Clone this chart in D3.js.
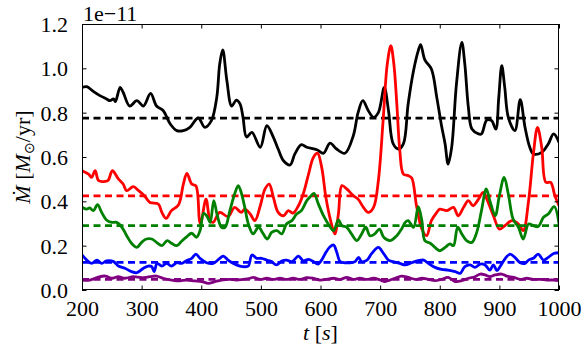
<!DOCTYPE html>
<html><head><meta charset="utf-8">
<script src="https://cdn.jsdelivr.net/npm/d3@7"></script>
<style>body{margin:0;background:#fff}svg{display:block}</style>
</head><body><svg id="c" width="584" height="352"></svg>
<script>
const xTicks = [200,300,400,500,600,700,800,900,1000];
const yTicks = [0,0.2,0.4,0.6,0.8,1.0,1.2];
const xLabels = ["200","300","400","500","600","700","800","900","1000"];
const yLabels = ["0.0","0.2","0.4","0.6","0.8","1.0","1.2"];
const seriesNames = ["black","red","green","blue","purple"];
const seriesColors = ["#000000","#ff0000","#008000","#0000ff","#800080"];
const seriesMeans = [0.775,0.425,0.29,0.125,0.048];

const tBlack = [200,208,219,230,241,247,253,256,264,269,280,292,303,315,325,336,348,359,370,381,395,406,417,426,431,436,443,451,459,465,470,476,485,499,510,521,529,538,549,557,568,577,594,605,616,627,641,655,663,671,680,689,697,707,714,722,731,739,747,756,764,768,775,786,795,803,809,814,820,828,837,842,848,854,865,870,879,887,894,899,904,909,915,926,935,943,951,957,971,982,991,1000];
const vBlack = [.914,.917,.896,.877,.862,.854,.862,.85,.914,.892,.83,.854,.83,.887,.83,.81,.749,.719,.719,.734,.776,.734,.764,.869,1.02,1.083,.944,.83,.857,.84,.78,.69,.711,.644,.741,.689,.636,.583,.564,.614,.656,.644,.633,.617,.663,.636,.617,.696,.80,.854,.81,.779,.80,.914,.81,.659,.636,.659,.839,.989,1.08,1.107,1.038,.997,.869,.741,.659,.568,.644,.929,1.117,1.02,.824,.726,.704,.704,.767,.764,.726,.869,1.012,.914,.779,.719,.859,.734,.644,.614,.621,.659,.704,.666];

const tRed = [200,211,216,222,228,239,244,251,261,269,275,286,295,306,314,328,334,341,350,362,370,376,384,391,397,399,408,415,420,431,445,456,467,473,482,490,499,507,514,521,529,538,546,554,563,571,580,588,595,602,609,617,624,630,636,644,655,663,672,680,689,697,705,712,718,723,728,733,739,747,753,761,770,778,786,795,800,812,823,831,840,848,856,865,873,880,890,900,909,921,932,940,949,957,964,971,978,986,993,1000];
const vRed = [.538,.523,.508,.538,.493,.49,.495,.538,.501,.478,.448,.466,.448,.421,.395,.388,.35,.323,.358,.385,.478,.526,.478,.47,.313,.298,.41,.313,.305,.35,.331,.373,.35,.365,.343,.313,.38,.456,.478,.418,.35,.335,.358,.347,.38,.433,.523,.598,.617,.553,.418,.313,.253,.343,.471,.456,.426,.41,.373,.35,.373,.493,.764,1.02,1.102,1.02,.839,.63,.523,.516,.505,.38,.275,.245,.313,.35,.365,.358,.373,.335,.373,.403,.38,.41,.44,.403,.335,.275,.29,.313,.298,.268,.403,.614,.734,.644,.486,.486,.426,.38];

const tGreen = [200,208,213,219,226,233,241,250,258,267,275,283,292,300,308,317,325,334,343,350,359,367,376,384,392,398,404,410,415,421,427,434,440,448,456,462,467,473,479,487,496,504,511,518,527,535,543,552,560,568,577,582,589,596,605,613,622,630,636,644,652,661,669,676,683,691,699,706,717,728,736,742,747,756,764,770,775,784,792,800,809,817,823,830,837,845,854,862,870,878,884,893,900,908,915,923,932,940,949,957,965,974,982,992,1000];
const vGreen = [.373,.365,.37,.358,.385,.35,.316,.305,.305,.283,.245,.211,.192,.215,.23,.23,.215,.2,.223,.211,.2,.22,.241,.256,.238,.268,.346,.331,.305,.403,.335,.283,.283,.358,.433,.471,.44,.373,.298,.253,.283,.253,.23,.26,.268,.253,.298,.313,.343,.358,.403,.418,.436,.391,.335,.298,.268,.316,.29,.283,.253,.223,.253,.283,.245,.253,.275,.238,.223,.245,.275,.305,.313,.283,.376,.313,.223,.211,.192,.177,.192,.208,.2,.283,.253,.223,.215,.26,.358,.456,.403,.335,.426,.508,.433,.32,.283,.23,.298,.29,.286,.328,.343,.376,.298];

const tBlue = [200,208,216,225,233,241,253,261,272,283,292,303,311,317,321,326,334,342,350,359,367,375,384,391,398,409,420,429,437,445,454,465,473,479,485,493,501,510,518,526,535,543,552,563,571,580,588,596,603,608,616,622,627,633,641,650,658,664,669,678,686,697,705,714,722,733,742,753,764,773,781,792,803,814,826,834,842,851,859,868,876,884,890,896,901,910,918,926,935,943,949,957,965,974,982,991,1000];
const vBlue = [.158,.135,.12,.135,.12,.131,.128,.108,.098,.083,.078,.098,.108,.105,.083,.12,.108,.12,.108,.123,.12,.132,.143,.162,.143,.123,.12,.138,.153,.135,.12,.108,.105,.108,.158,.143,.143,.135,.128,.113,.131,.135,.128,.153,.132,.138,.128,.117,.14,.165,.195,.203,.173,.128,.123,.123,.128,.147,.128,.135,.165,.192,.168,.135,.128,.12,.113,.123,.132,.135,.12,.102,.093,.09,.083,.075,.105,.113,.102,.117,.113,.09,.113,.087,.105,.143,.162,.147,.123,.12,.135,.143,.162,.135,.147,.165,.168];

const tPurple = [200,213,225,239,250,261,272,286,300,314,325,336,350,364,375,389,401,412,423,434,448,459,470,482,487,499,510,521,532,543,554,566,577,588,599,610,622,633,644,655,666,678,689,700,708,717,725,736,747,759,770,781,792,803,814,826,837,848,859,868,876,884,893,904,912,924,935,946,957,968,980,991,1000];
const vPurple = [.045,.045,.056,.063,.053,.06,.053,.06,.056,.06,.063,.053,.045,.041,.045,.041,.038,.03,.038,.045,.048,.045,.048,.053,.057,.048,.053,.048,.053,.048,.053,.048,.056,.053,.045,.048,.053,.048,.057,.048,.053,.048,.053,.045,.038,.045,.053,.063,.057,.048,.053,.048,.042,.048,.057,.038,.042,.053,.06,.072,.068,.06,.068,.072,.063,.057,.048,.053,.048,.048,.045,.045,.042];

const seriesT = [tBlack,tRed,tGreen,tBlue,tPurple];
const seriesV = [vBlack,vRed,vGreen,vBlue,vPurple];

const FONT = '"Liberation Serif","Times New Roman",serif';
const W=584,H=352,m={l:82,t:24,r:25,b:62};
const svg=d3.select("#c");
const x=d3.scaleLinear().domain([200,1000]).range([m.l,W-m.r]);
const y=d3.scaleLinear().domain([0,1.2]).range([H-m.b,m.t]);

svg.append("clipPath").attr("id","clip").append("rect")
  .attr("x",m.l).attr("y",m.t).attr("width",W-m.l-m.r).attr("height",H-m.t-m.b);

const g=svg.append("g").attr("clip-path","url(#clip)");
const line=d3.line().x(d=>x(d[0])).y(d=>y(d[1])).curve(d3.curveCatmullRom.alpha(0.5));
seriesNames.forEach((n,i)=>{
  const pts=seriesT[i].map((t,j)=>[t,seriesV[i][j]]);
  g.append("path").attr("d",line(pts)).attr("fill","none")
   .attr("stroke",seriesColors[i]).attr("stroke-width",2.8).attr("stroke-linejoin","round");
  g.append("line").attr("x1",x(200)).attr("x2",x(1000))
   .attr("y1",y(seriesMeans[i])).attr("y2",y(seriesMeans[i]))
   .attr("stroke",seriesColors[i]).attr("stroke-width",2.8).attr("stroke-dasharray","7,4.5");
});

const tl=4.5;
const axB=d3.axisBottom(x).tickValues(xTicks).tickSize(-tl).tickPadding(10).tickFormat((d,i)=>xLabels[i]);
const axT=d3.axisTop(x).tickValues(xTicks).tickSize(-tl).tickFormat("");
const axL=d3.axisLeft(y).tickValues(yTicks).tickSize(-tl).tickPadding(14).tickFormat((d,i)=>yLabels[i]);
const axR=d3.axisRight(y).tickValues(yTicks).tickSize(-tl).tickFormat("");
function style(sel){sel.attr("font-family",FONT).attr("font-size",22);
  sel.select(".domain").remove();sel.selectAll("line").attr("stroke","#000").attr("stroke-width",1);
  sel.selectAll("text").style("font-family",FONT).style("font-size","22px").attr("fill","#000");}
svg.append("g").attr("transform",`translate(0,${H-m.b})`).call(axB).call(style);
svg.append("g").attr("transform",`translate(0,${m.t})`).call(axT).call(style);
svg.append("g").attr("transform",`translate(${m.l},0)`).call(axL).call(style).selectAll("text").attr("dy","0.34em");
svg.append("g").attr("transform",`translate(${W-m.r},0)`).call(axR).call(style);

svg.append("rect").attr("x",m.l+0.5).attr("y",m.t+0.5).attr("width",W-m.l-m.r-1).attr("height",H-m.t-m.b-1)
  .attr("fill","none").attr("stroke","#000").attr("stroke-width",1);

function T(sel){return sel.style("font-family",FONT).style("font-size","22px").attr("fill","#000");}
T(svg.append("text").attr("x",m.l+1).attr("y",21)).text("1e\u221211");

const xl=T(svg.append("text").attr("x",(m.l+W-m.r)/2).attr("y",340).attr("text-anchor","middle"));
xl.append("tspan").style("font-style","italic").text("t");
xl.append("tspan").text(" [");
xl.append("tspan").style("font-style","italic").text("s");
xl.append("tspan").text("]");

const yl=T(svg.append("text").attr("transform",`translate(30,${(m.t+H-m.b)/2}) rotate(-90)`).attr("text-anchor","middle"));
yl.append("tspan").style("font-style","italic").text("\u1E40");
yl.append("tspan").text(" [");
yl.append("tspan").style("font-style","italic").text("M");
yl.append("tspan").attr("dy",4).style("font-size","14px").text("\u2299");
yl.append("tspan").attr("dy",-4).text("/yr]");
</script></body></html>
